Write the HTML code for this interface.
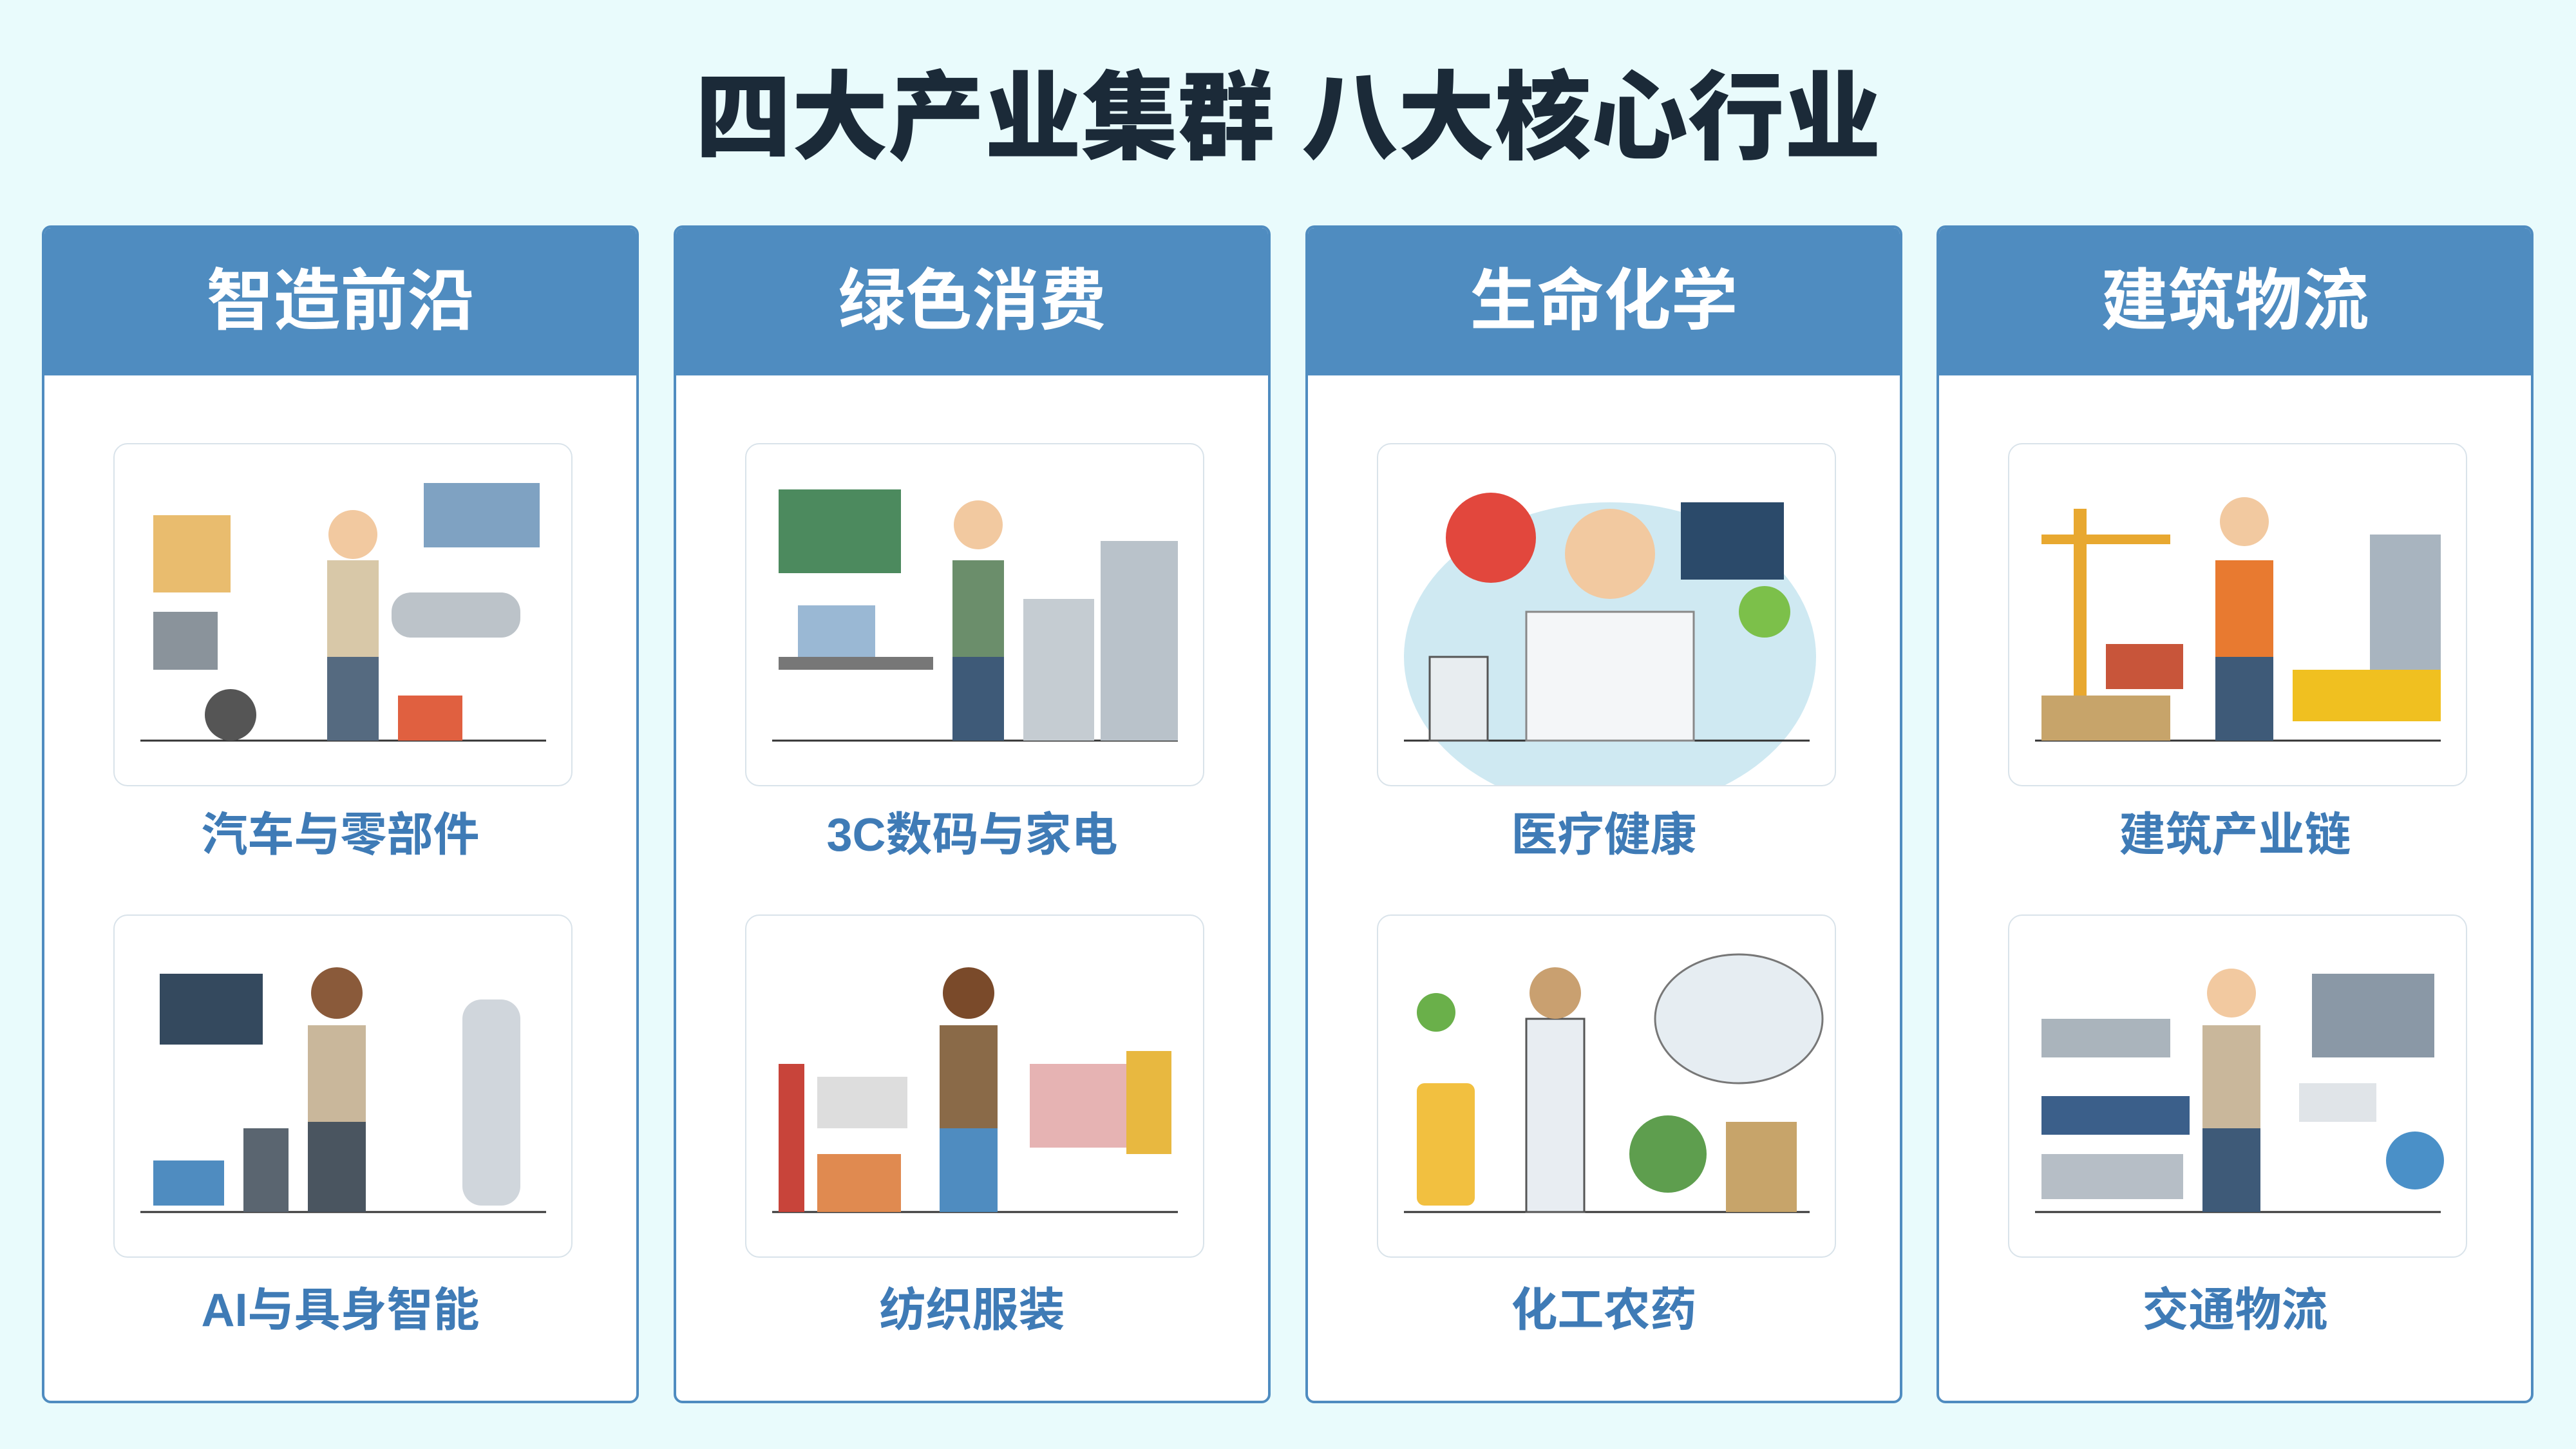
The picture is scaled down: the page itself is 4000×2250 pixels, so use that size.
<!DOCTYPE html>
<html><head><meta charset="utf-8">
<style>
html,body{margin:0;padding:0}
body{width:4000px;height:2250px;background:#e9fbfc;position:relative;overflow:hidden;font-family:"Liberation Sans","Noto Sans CJK SC",sans-serif}
.title{position:absolute;left:0;width:4000px;top:98px;text-align:center;font-size:150px;font-weight:900;color:#1b2a38;line-height:170px}
.col{position:absolute;top:350px;width:927px;height:1829px;background:#fff;border:4px solid #4f8cc0;border-radius:14px;box-sizing:border-box;overflow:hidden}
.hd{position:absolute;left:0;top:0;width:100%;height:229px;background:#4f8cc0;color:#fff;font-size:104px;font-weight:700;text-align:center;line-height:229px}
.card{position:absolute;left:107px;width:713px;height:533px;border:2px solid #d9e3ea;border-radius:22px;box-sizing:border-box;background:#fff;overflow:hidden}
.lbl{position:absolute;left:0;width:100%;text-align:center;font-size:72px;font-weight:700;color:#3f7bb6;line-height:90px;z-index:2}
</style></head><body>
<div class="title">四大产业集群 八大核心行业</div>

<div class="col" style="left:65px">
<div class="hd">智造前沿</div>
<div class="card" style="top:334px"><svg width="709" height="529"><line x1="40" y1="460" x2="670" y2="460" stroke="#333" stroke-width="3"/><rect x="60" y="110" width="120" height="120" fill="#e0a030" opacity=".7"/><rect x="330" y="180" width="80" height="150" fill="#d8c8a8"/><rect x="330" y="330" width="80" height="130" fill="#556a80"/><circle cx="370" cy="140" r="38" fill="#f2c9a0"/><rect x="480" y="60" width="180" height="100" fill="#7fa2c2"/><rect x="430" y="230" width="200" height="70" rx="30" fill="#bcc3c9"/><rect x="440" y="390" width="100" height="70" fill="#e06040"/><circle cx="180" cy="420" r="40" fill="#555"/><rect x="60" y="260" width="100" height="90" fill="#8a939b"/></svg></div>
<div class="lbl" style="top:898px">汽车与零部件</div>
<div class="card" style="top:1066px"><svg width="709" height="529"><line x1="40" y1="460" x2="670" y2="460" stroke="#333" stroke-width="3"/><rect x="70" y="90" width="160" height="110" fill="#34495e"/><rect x="300" y="170" width="90" height="150" fill="#c9b79b"/><rect x="300" y="320" width="90" height="140" fill="#4a5560"/><circle cx="345" cy="120" r="40" fill="#8a5a3a"/><rect x="540" y="130" width="90" height="320" rx="30" fill="#d0d6dc"/><rect x="200" y="330" width="70" height="130" fill="#5a6570"/><rect x="60" y="380" width="110" height="70" fill="#4f8cc0"/></svg></div>
<div class="lbl" style="top:1636px">AI与具身智能</div>
</div>

<div class="col" style="left:1046px">
<div class="hd">绿色消费</div>
<div class="card" style="top:334px"><svg width="709" height="529"><line x1="40" y1="460" x2="670" y2="460" stroke="#333" stroke-width="3"/><rect x="50" y="70" width="190" height="130" fill="#4c8a5e"/><rect x="50" y="330" width="240" height="20" fill="#777"/><rect x="80" y="250" width="120" height="80" fill="#9ab8d4"/><rect x="320" y="180" width="80" height="150" fill="#6b8e6b"/><rect x="320" y="330" width="80" height="130" fill="#3e5a78"/><circle cx="360" cy="125" r="38" fill="#f2c9a0"/><rect x="430" y="240" width="110" height="220" fill="#c5ccd2"/><rect x="550" y="150" width="120" height="310" fill="#b9c2ca"/></svg></div>
<div class="lbl" style="top:898px">3C数码与家电</div>
<div class="card" style="top:1066px"><svg width="709" height="529"><line x1="40" y1="460" x2="670" y2="460" stroke="#333" stroke-width="3"/><rect x="50" y="230" width="40" height="230" fill="#c8443a"/><rect x="110" y="250" width="140" height="80" fill="#ddd"/><rect x="110" y="370" width="130" height="90" fill="#e08a50"/><rect x="300" y="170" width="90" height="160" fill="#8a6a48"/><rect x="300" y="330" width="90" height="130" fill="#4f8cc0"/><circle cx="345" cy="120" r="40" fill="#7a4a2a"/><rect x="440" y="230" width="220" height="130" fill="#e0a0a0" opacity=".8"/><rect x="590" y="210" width="70" height="160" fill="#e8b840"/></svg></div>
<div class="lbl" style="top:1636px">纺织服装</div>
</div>

<div class="col" style="left:2027px">
<div class="hd">生命化学</div>
<div class="card" style="top:334px"><svg width="709" height="529"><ellipse cx="360" cy="330" rx="320" ry="240" fill="#cfe9f2"/><line x1="40" y1="460" x2="670" y2="460" stroke="#333" stroke-width="3"/><circle cx="175" cy="145" r="70" fill="#e2473d"/><rect x="470" y="90" width="160" height="120" fill="#2b4a6a"/><rect x="230" y="260" width="260" height="200" fill="#f4f6f8" stroke="#888" stroke-width="3"/><circle cx="360" cy="170" r="70" fill="#f2c9a0"/><rect x="80" y="330" width="90" height="130" fill="#e8edf0" stroke="#555" stroke-width="3"/><circle cx="600" cy="260" r="40" fill="#7cc04a"/></svg></div>
<div class="lbl" style="top:898px">医疗健康</div>
<div class="card" style="top:1066px"><svg width="709" height="529"><line x1="40" y1="460" x2="670" y2="460" stroke="#333" stroke-width="3"/><ellipse cx="560" cy="160" rx="130" ry="100" fill="#e6edf2" stroke="#777" stroke-width="3"/><rect x="60" y="260" width="90" height="190" rx="12" fill="#f2c040"/><rect x="230" y="160" width="90" height="300" fill="#e8edf2" stroke="#555" stroke-width="3"/><circle cx="275" cy="120" r="40" fill="#c9a070"/><rect x="540" y="320" width="110" height="140" fill="#c7a46a"/><circle cx="450" cy="370" r="60" fill="#5e9e4e"/><circle cx="90" cy="150" r="30" fill="#6ab04a"/></svg></div>
<div class="lbl" style="top:1636px">化工农药</div>
</div>

<div class="col" style="left:3007px">
<div class="hd">建筑物流</div>
<div class="card" style="top:334px"><svg width="709" height="529"><line x1="40" y1="460" x2="670" y2="460" stroke="#333" stroke-width="3"/><rect x="100" y="100" width="20" height="300" fill="#e8a830"/><rect x="50" y="140" width="200" height="15" fill="#e8a830"/><rect x="150" y="310" width="120" height="70" fill="#c8553a"/><rect x="320" y="180" width="90" height="150" fill="#e87a30"/><rect x="320" y="330" width="90" height="130" fill="#3e5a78"/><circle cx="365" cy="120" r="38" fill="#f2c9a0"/><rect x="560" y="140" width="110" height="210" fill="#a8b4bf"/><rect x="440" y="350" width="230" height="80" fill="#f0c020"/><rect x="50" y="390" width="200" height="70" fill="#c7a46a"/></svg></div>
<div class="lbl" style="top:898px">建筑产业链</div>
<div class="card" style="top:1066px"><svg width="709" height="529"><line x1="40" y1="460" x2="670" y2="460" stroke="#333" stroke-width="3"/><rect x="50" y="160" width="200" height="60" fill="#aab4bc"/><rect x="50" y="280" width="230" height="60" fill="#3b5f8a"/><rect x="50" y="370" width="220" height="70" fill="#b6bec6"/><rect x="300" y="170" width="90" height="160" fill="#c9b79b"/><rect x="300" y="330" width="90" height="130" fill="#3e5a78"/><circle cx="345" cy="120" r="38" fill="#f2c9a0"/><rect x="470" y="90" width="190" height="130" fill="#8a98a6"/><rect x="450" y="260" width="120" height="60" fill="#e0e4e8"/><circle cx="630" cy="380" r="45" fill="#4a90c8"/></svg></div>
<div class="lbl" style="top:1636px">交通物流</div>
</div>
</body></html>
